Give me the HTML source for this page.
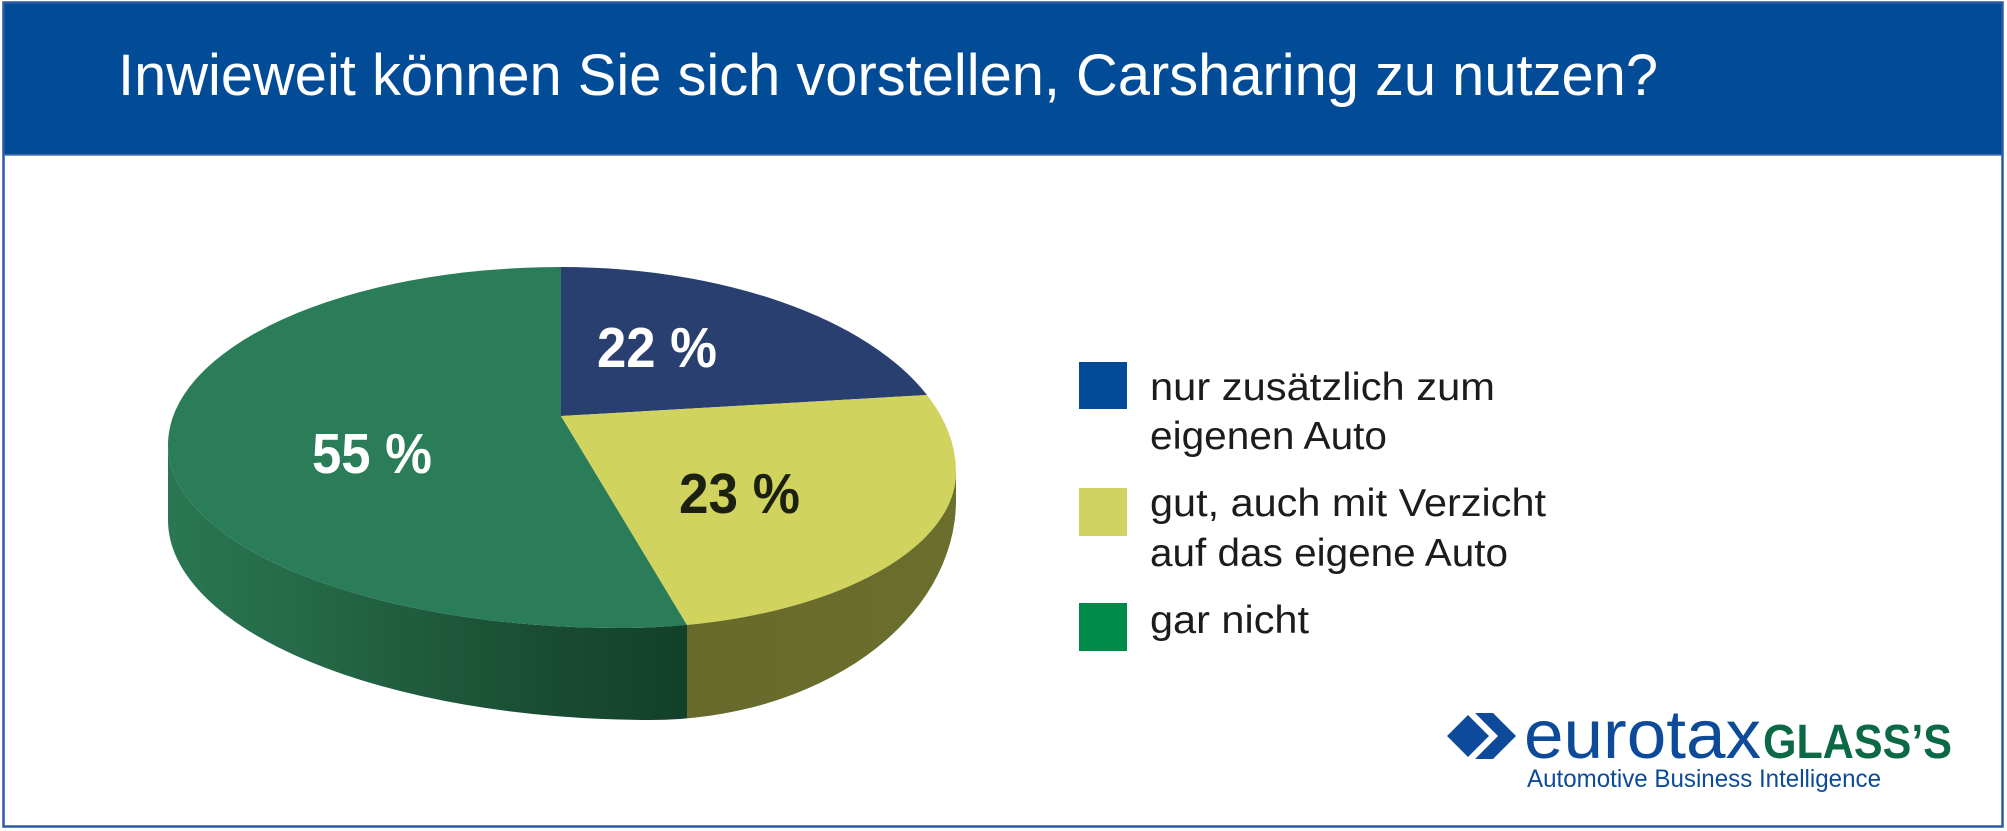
<!DOCTYPE html>
<html>
<head>
<meta charset="utf-8">
<style>
  html,body{margin:0;padding:0;background:#fff;}
  svg{display:block;}
</style>
</head>
<body>
<svg width="2007" height="831" viewBox="0 0 2007 831" xmlns="http://www.w3.org/2000/svg">
  <defs>
    <linearGradient id="side" gradientUnits="userSpaceOnUse" x1="168" y1="0" x2="956" y2="0">
      <stop offset="0" stop-color="#2a7652"/>
      <stop offset="0.15" stop-color="#266b4a"/>
      <stop offset="0.30" stop-color="#205d3f"/>
      <stop offset="0.45" stop-color="#1a4f34"/>
      <stop offset="0.6586" stop-color="#12402a"/>
      <stop offset="0.6586" stop-color="#686a2b"/>
      <stop offset="1" stop-color="#6c6e2d"/>
    </linearGradient>
  </defs>

  <!-- background -->
  <rect x="0" y="0" width="2007" height="831" fill="#ffffff"/>

  <!-- header bar -->
  <rect x="3" y="2" width="2000" height="153" fill="#024c97"/>
  <line x1="3" y1="155" x2="2003" y2="155" stroke="#4a76b6" stroke-width="1.5"/>

  <!-- frame -->
  <rect x="3.5" y="2.5" width="1999" height="824" fill="none" stroke="#2a5aa3" stroke-width="2.5"/>

  <!-- title -->
  <text x="118" y="95" font-family="'Liberation Sans', sans-serif" font-size="58" fill="#ffffff" textLength="1540" lengthAdjust="spacingAndGlyphs">Inwieweit können Sie sich vorstellen, Carsharing zu nutzen?</text>

  <!-- pie side -->
  <path d="M168,445 L168,520 A482,200 0 0 0 650,720 A306,220 0 0 0 956,500 L956,472 A336,156 0 0 1 620,628 A452,183 0 0 1 168,445 Z" fill="url(#side)"/>

  <!-- pie top slices -->
  <!-- green 55% -->
  <path d="M561,416 L687,625 A336,156 0 0 1 620,628 A452,183 0 0 1 168,445 A393,178 0 0 1 561,267 Z" fill="#2a7d58"/>
  <!-- blue 22% -->
  <path d="M561,416 L561,267 A395,205 0 0 1 927,395 Z" fill="#283f70"/>
  <!-- yellow 23% -->
  <path d="M561,416 L927,395 A395,205 0 0 1 956,472 A336,156 0 0 1 687,625 Z" fill="#d0d35e"/>

  <!-- pie labels -->
  <text x="597" y="367" font-family="'Liberation Sans', sans-serif" font-weight="bold" font-size="57" fill="#ffffff" textLength="120" lengthAdjust="spacingAndGlyphs">22 %</text>
  <text x="312" y="473" font-family="'Liberation Sans', sans-serif" font-weight="bold" font-size="57" fill="#ffffff" textLength="120" lengthAdjust="spacingAndGlyphs">55 %</text>
  <text x="679" y="513" font-family="'Liberation Sans', sans-serif" font-weight="bold" font-size="57" fill="#1b2010" textLength="121" lengthAdjust="spacingAndGlyphs">23 %</text>

  <!-- legend -->
  <rect x="1079" y="362" width="48" height="47" fill="#004a97"/>
  <rect x="1079" y="488" width="48" height="48" fill="#d0d35f"/>
  <rect x="1079" y="603" width="48" height="48" fill="#008a47"/>

  <g font-family="'Liberation Sans', sans-serif" font-size="39" fill="#1c1c1c">
    <text x="1150" y="400" textLength="345" lengthAdjust="spacingAndGlyphs">nur zusätzlich zum</text>
    <text x="1150" y="449" textLength="237" lengthAdjust="spacingAndGlyphs">eigenen Auto</text>
    <text x="1150" y="516" textLength="396" lengthAdjust="spacingAndGlyphs">gut, auch mit Verzicht</text>
    <text x="1150" y="566" textLength="358" lengthAdjust="spacingAndGlyphs">auf das eigene Auto</text>
    <text x="1150" y="633" textLength="159" lengthAdjust="spacingAndGlyphs">gar nicht</text>
  </g>

  <!-- logo -->
  <polygon points="1447,736 1468,715 1489,736 1468,757" fill="#0d4a9a"/>
  <polygon points="1475,713 1493,713 1516,736 1493,759 1475,759 1498,736" fill="#0d4a9a"/>
  <text x="1524" y="758" font-family="'Liberation Sans', sans-serif" font-size="69" fill="#0d4a9a" textLength="237" lengthAdjust="spacingAndGlyphs">eurotax</text>
  <text x="1763" y="758" font-family="'Liberation Sans', sans-serif" font-weight="bold" font-size="48" fill="#0b6a45" textLength="189" lengthAdjust="spacingAndGlyphs">GLASS’S</text>
  <text x="1527" y="787" font-family="'Liberation Sans', sans-serif" font-size="25" fill="#0d4a9a" textLength="354" lengthAdjust="spacingAndGlyphs">Automotive Business Intelligence</text>
</svg>
</body>
</html>
